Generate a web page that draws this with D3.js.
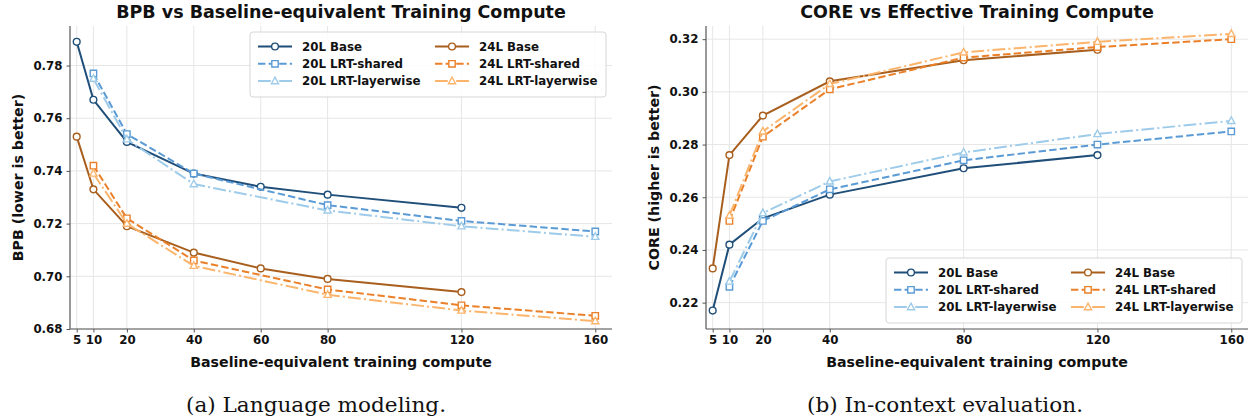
<!DOCTYPE html>
<html>
<head>
<meta charset="utf-8">
<script src="https://cdn.jsdelivr.net/npm/d3@7"></script>
<style>
body { margin: 0; background: #fff; }
svg text { font-family: "DejaVu Sans", sans-serif; font-weight: bold; fill: #111; }
svg text.caption { font-family: "DejaVu Serif", serif; font-weight: normal; }
</style>
</head>
<body>
<svg id="fig" width="1252" height="419"></svg>
<script>
// series
const seriesNames = ['20L Base', '20L LRT-shared', '20L LRT-layerwise', '24L Base', '24L LRT-shared', '24L LRT-layerwise'];
const seriesColors = ['#1f4e79', '#5b9bd5', '#9dcbe9', '#a85f1e', '#ea8029', '#fbb46c'];
const seriesDash = [null, '7.4,3.2', '12.8,3.2,2,3.2', null, '7.4,3.2', '12.8,3.2,2,3.2'];
const seriesMarker = ['circle', 'square', 'triangle', 'circle', 'square', 'triangle'];

// BPB panel
const bpbBaseSteps = [5, 10, 20, 40, 60, 80, 120];
const bpbLrtSteps = [10, 20, 40, 80, 120, 160];
const bpb20Base = [0.789, 0.767, 0.751, 0.739, 0.734, 0.731, 0.726];
const bpb20Shared = [0.777, 0.754, 0.739, 0.727, 0.721, 0.717];
const bpb20Layerwise = [0.775, 0.752, 0.735, 0.725, 0.719, 0.715];
const bpb24Base = [0.753, 0.733, 0.719, 0.709, 0.703, 0.699, 0.694];
const bpb24Shared = [0.742, 0.722, 0.706, 0.695, 0.689, 0.685];
const bpb24Layerwise = [0.739, 0.720, 0.704, 0.693, 0.687, 0.683];
const bpbXTicks = [5, 10, 20, 40, 60, 80, 120, 160];
const bpbYTicks = [0.68, 0.70, 0.72, 0.74, 0.76, 0.78];

// CORE panel
const coreBaseSteps = [5, 10, 20, 40, 80, 120];
const coreLrtSteps = [10, 20, 40, 80, 120, 160];
const core20Base = [0.217, 0.242, 0.252, 0.261, 0.271, 0.276];
const core20Shared = [0.226, 0.251, 0.263, 0.274, 0.280, 0.285];
const core20Layerwise = [0.228, 0.254, 0.266, 0.277, 0.284, 0.289];
const core24Base = [0.233, 0.276, 0.291, 0.304, 0.312, 0.316];
const core24Shared = [0.251, 0.283, 0.301, 0.313, 0.317, 0.320];
const core24Layerwise = [0.253, 0.285, 0.303, 0.315, 0.319, 0.322];
const coreXTicks = [5, 10, 20, 40, 80, 120, 160];
const coreYTicks = [0.22, 0.24, 0.26, 0.28, 0.30, 0.32];

const svg = d3.select('#fig');

function drawPanel(cfg) {
	const { left, right, top, bottom } = cfg;
	const x = d3.scaleLinear().domain([3, 165]).range([left, right]);
	const y = d3.scaleLinear().domain(cfg.yDomain).range([bottom, top]);
	const g = svg.append('g');

	// grid
	g.selectAll('.vgrid').data(cfg.xTicks).enter().append('line')
		.attr('x1', d => x(d)).attr('x2', d => x(d)).attr('y1', top).attr('y2', bottom)
		.attr('stroke', '#e6e6e6').attr('stroke-width', 1);
	g.selectAll('.hgrid').data(cfg.yTicks).enter().append('line')
		.attr('x1', left).attr('x2', right).attr('y1', d => y(d)).attr('y2', d => y(d))
		.attr('stroke', '#e6e6e6').attr('stroke-width', 1);

	// axes
	const xAxis = d3.axisBottom(x).tickValues(cfg.xTicks).tickSize(3.5).tickPadding(3).tickFormat(d3.format('d'));
	const xg = g.append('g').attr('transform', `translate(0,${bottom})`).call(xAxis);
	const yAxis = d3.axisLeft(y).tickValues(cfg.yTicks).tickSize(3.5).tickPadding(4).tickFormat(d3.format('.2f'));
	const yg = g.append('g').attr('transform', `translate(${left},0)`).call(yAxis);
	[xg, yg].forEach(a => {
		a.select('.domain').remove();
		a.selectAll('.tick line').attr('stroke', '#555').attr('stroke-width', 1);
		a.selectAll('.tick text').style('font-size', '11.8px').attr('fill', '#111');
	});
	g.append('line').attr('x1', left).attr('x2', left).attr('y1', top).attr('y2', bottom)
		.attr('stroke', '#555').attr('stroke-width', 1.2);
	g.append('line').attr('x1', left).attr('x2', right).attr('y1', bottom).attr('y2', bottom)
		.attr('stroke', '#555').attr('stroke-width', 1.2);

	// titles
	g.append('text').attr('x', (left + right) / 2).attr('y', 18).attr('text-anchor', 'middle')
		.style('font-size', '17.5px').text(cfg.title);
	g.append('text').attr('x', (left + right) / 2).attr('y', 367).attr('text-anchor', 'middle')
		.style('font-size', '14.2px').text('Baseline-equivalent training compute');
	g.append('text').attr('transform', `translate(${cfg.yLabelX},${(top + bottom) / 2}) rotate(-90)`)
		.attr('text-anchor', 'middle').style('font-size', '14.2px').text(cfg.yLabel);

	// lines
	const line = d3.line().x(d => x(d[0])).y(d => y(d[1]));
	cfg.series.forEach((s, i) => {
		const pts = s.steps.map((st, j) => [st, s.values[j]]);
		g.append('path').datum(pts).attr('d', line)
			.attr('fill', 'none').attr('stroke', seriesColors[i]).attr('stroke-width', 2)
			.attr('stroke-dasharray', seriesDash[i]);
		g.selectAll(null).data(pts).enter().append('path')
			.attr('transform', d => `translate(${x(d[0])},${y(d[1])})`)
			.attr('d', markerPath(seriesMarker[i]))
			.attr('fill', '#fff').attr('stroke', seriesColors[i]).attr('stroke-width', 1.4);
	});

	// legend
	const lg = g.append('g').attr('transform', `translate(${cfg.legendX},${cfg.legendY})`);
	lg.append('rect').attr('width', 356).attr('height', 65).attr('rx', 3)
		.attr('fill', '#fff').attr('fill-opacity', 0.85).attr('stroke', '#d6d6d6');
	seriesNames.forEach((name, i) => {
		const col = Math.floor(i / 3), row = i % 3;
		const lx = 8 + col * 177, ly = 14.5 + row * 17.3;
		lg.append('line').attr('x1', lx).attr('x2', lx + 34).attr('y1', ly).attr('y2', ly)
			.attr('stroke', seriesColors[i]).attr('stroke-width', 2).attr('stroke-dasharray', seriesDash[i]);
		lg.append('path').attr('transform', `translate(${lx + 17},${ly})`).attr('d', markerPath(seriesMarker[i]))
			.attr('fill', '#fff').attr('stroke', seriesColors[i]).attr('stroke-width', 1.4);
		lg.append('text').attr('x', lx + 44).attr('y', ly).attr('dy', '0.36em')
			.style('font-size', '11.8px').text(name);
	});
}

function markerPath(kind) {
	if (kind === 'circle') return d3.symbol(d3.symbolCircle, 36)();
	if (kind === 'square') return 'M-3.2,-3.2H3.2V3.2H-3.2Z';
	return 'M0,-4L3.6,2.6H-3.6Z';
}

drawPanel({
	left: 70, right: 612, top: 26, bottom: 329,
	yDomain: [0.68, 0.795], xTicks: bpbXTicks, yTicks: bpbYTicks,
	title: 'BPB vs Baseline-equivalent Training Compute', yLabel: 'BPB (lower is better)', yLabelX: 23,
	legendX: 250, legendY: 32,
	series: [
		{ steps: bpbBaseSteps, values: bpb20Base },
		{ steps: bpbLrtSteps, values: bpb20Shared },
		{ steps: bpbLrtSteps, values: bpb20Layerwise },
		{ steps: bpbBaseSteps, values: bpb24Base },
		{ steps: bpbLrtSteps, values: bpb24Shared },
		{ steps: bpbLrtSteps, values: bpb24Layerwise }
	]
});

drawPanel({
	left: 706, right: 1248, top: 26, bottom: 329,
	yDomain: [0.21, 0.325], xTicks: coreXTicks, yTicks: coreYTicks,
	title: 'CORE vs Effective Training Compute', yLabel: 'CORE (higher is better)', yLabelX: 659,
	legendX: 886, legendY: 258,
	series: [
		{ steps: coreBaseSteps, values: core20Base },
		{ steps: coreLrtSteps, values: core20Shared },
		{ steps: coreLrtSteps, values: core20Layerwise },
		{ steps: coreBaseSteps, values: core24Base },
		{ steps: coreLrtSteps, values: core24Shared },
		{ steps: coreLrtSteps, values: core24Layerwise }
	]
});

// captions
svg.append('text').attr('class', 'caption').attr('x', 316).attr('y', 412).attr('text-anchor', 'middle')
	.style('font-size', '20px').attr('textLength', 260).attr('lengthAdjust', 'spacingAndGlyphs')
	.text('(a) Language modeling.');
svg.append('text').attr('class', 'caption').attr('x', 945).attr('y', 412).attr('text-anchor', 'middle')
	.style('font-size', '20px').attr('textLength', 276).attr('lengthAdjust', 'spacingAndGlyphs')
	.text('(b) In-context evaluation.');
</script>
</body>
</html>
